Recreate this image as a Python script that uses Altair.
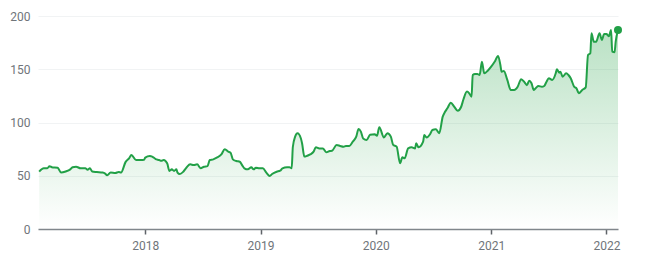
import altair as alt
import pandas as pd

# decimal year and price
years = [2017.08, 2017.12, 2017.15, 2017.17, 2017.19, 2017.24, 2017.27, 2017.31, 2017.35, 2017.37,
         2017.40, 2017.44, 2017.48, 2017.50, 2017.52, 2017.54, 2017.58, 2017.63, 2017.65, 2017.67,
         2017.70, 2017.74, 2017.77, 2017.79, 2017.83, 2017.86, 2017.88, 2017.92, 2017.96, 2017.99,
         2018.00, 2018.04, 2018.06, 2018.09, 2018.12, 2018.14, 2018.16, 2018.19, 2018.21, 2018.23,
         2018.25, 2018.27, 2018.28, 2018.30, 2018.33, 2018.36, 2018.39, 2018.42, 2018.45, 2018.48,
         2018.51, 2018.54, 2018.56, 2018.59, 2018.62, 2018.66, 2018.69, 2018.72, 2018.74, 2018.76,
         2018.79, 2018.82, 2018.84, 2018.86, 2018.89, 2018.92, 2018.94, 2018.96, 2018.99, 2019.02,
         2019.05, 2019.08, 2019.10, 2019.14, 2019.17, 2019.19, 2019.23, 2019.25, 2019.27, 2019.28,
         2019.30, 2019.32, 2019.35, 2019.36, 2019.38, 2019.40, 2019.43, 2019.46, 2019.48, 2019.51,
         2019.54, 2019.57, 2019.60, 2019.62, 2019.66, 2019.69, 2019.72, 2019.74, 2019.77, 2019.80,
         2019.83, 2019.85, 2019.87, 2019.89, 2019.92, 2019.95, 2019.99, 2020.01, 2020.03, 2020.07,
         2020.10, 2020.13, 2020.15, 2020.18, 2020.21, 2020.23, 2020.25, 2020.28, 2020.31, 2020.34,
         2020.35, 2020.37, 2020.41, 2020.42, 2020.44, 2020.47, 2020.49, 2020.52, 2020.55, 2020.58,
         2020.60, 2020.62, 2020.65, 2020.68, 2020.71, 2020.74, 2020.76, 2020.79, 2020.81, 2020.83,
         2020.84, 2020.86, 2020.88, 2020.90, 2020.92, 2020.94, 2020.97, 2021.00, 2021.03, 2021.06,
         2021.08, 2021.09, 2021.11, 2021.14, 2021.17, 2021.20, 2021.23, 2021.26, 2021.29, 2021.31,
         2021.33, 2021.35, 2021.37, 2021.39, 2021.41, 2021.44, 2021.46, 2021.48, 2021.50, 2021.53,
         2021.56, 2021.57, 2021.59, 2021.60, 2021.62, 2021.65, 2021.67, 2021.69, 2021.72, 2021.74,
         2021.76, 2021.79, 2021.82, 2021.84, 2021.86, 2021.87, 2021.89, 2021.91, 2021.94, 2021.96,
         2021.98, 2022.00, 2022.02, 2022.04, 2022.05, 2022.07, 2022.08, 2022.10]

prices = [53.8, 57.0, 57.0, 59.0, 58.0, 57.5, 53.0, 54.0, 56.0, 58.0,
          58.5, 57.0, 57.0, 55.7, 57.0, 54.0, 53.5, 53.0, 52.3, 50.4,
          53.0, 52.6, 53.5, 53.0, 63.0, 66.4, 69.5, 64.8, 64.8, 65.0,
          67.0, 68.5, 68.0, 65.7, 64.8, 64.0, 64.8, 61.7, 54.5, 56.0,
          54.5, 56.0, 53.0, 51.6, 53.8, 58.0, 60.7, 60.0, 60.7, 57.0,
          58.5, 59.0, 64.8, 65.4, 67.0, 70.0, 75.0, 72.6, 71.6, 65.4,
          63.8, 63.2, 60.0, 57.0, 56.0, 58.0, 56.0, 57.6, 57.0, 57.0,
          53.0, 49.8, 51.6, 53.8, 54.7, 57.0, 58.0, 58.0, 57.0, 77.0,
          86.7, 89.8, 85.0, 80.5, 68.0, 68.5, 70.0, 72.6, 76.7, 75.7,
          75.7, 72.0, 73.2, 73.5, 78.9, 78.0, 77.3, 78.0, 78.0, 82.0,
          86.7, 94.0, 91.4, 85.0, 83.6, 88.5, 89.0, 87.6, 95.5, 86.0,
          90.0, 86.7, 79.0, 77.3, 61.7, 67.3, 66.4, 75.7, 76.7, 75.7,
          80.5, 76.7, 82.0, 88.3, 86.0, 89.0, 93.0, 93.6, 90.0, 105.5,
          110.0, 113.3, 118.6, 114.8, 111.0, 114.8, 121.8, 129.0, 127.4, 124.2,
          144.6, 145.5, 145.5, 144.6, 157.0, 146.2, 148.6, 152.4, 157.0, 162.5,
          154.0, 147.7, 148.4, 140.0, 130.5, 130.5, 133.6, 140.6, 137.7, 135.0,
          139.3, 136.8, 130.5, 132.7, 134.3, 133.6, 134.3, 138.3, 141.5, 140.0,
          146.2, 150.0, 146.8, 147.7, 143.0, 146.2, 144.6, 141.5, 133.6, 132.1,
          127.4, 130.5, 133.0, 163.4, 165.0, 183.8, 175.9, 175.9, 183.8, 177.5,
          183.0, 183.0, 181.0, 186.8, 166.5, 166.0, 175.9, 186.8]

year_ticks = [2018, 2019, 2020, 2021, 2022]
price_ticks = [0, 50, 100, 150, 200]

df = pd.DataFrame({"year": years, "price": prices})
last = df.tail(1)

GREEN = "#22a047"
FONT = "Roboto"

x = alt.X("year:Q", scale=alt.Scale(domain=[2017.07, 2022.10], nice=False, zero=False),
          axis=alt.Axis(values=year_ticks, format="d", title=None, grid=False,
                        domainColor="#80868b", domainWidth=1.5, tickColor="#5f6368",
                        tickSize=5, tickWidth=1.5, labelColor="#70757a", labelFont=FONT,
                        labelFontSize=12, labelPadding=6, labelFlush=False))
y = alt.Y("price:Q", scale=alt.Scale(domain=[0, 200], nice=False),
          axis=alt.Axis(values=price_ticks, title=None, domain=False, ticks=False,
                        domainOpacity=0, gridColor="#f1f3f4", gridWidth=1,
                        labelColor="#70757a", labelFont=FONT, labelFontSize=12,
                        labelPadding=8))

area = alt.Chart(df).mark_area(
    strokeWidth=0,
    color=alt.Gradient(
        gradient="linear",
        stops=[alt.GradientStop(color="rgba(52,168,83,0.34)", offset=0),
               alt.GradientStop(color="rgba(52,168,83,0.0)", offset=1)],
        x1=1, x2=1, y1=0, y2=1),
).encode(x=x, y=y)

line = alt.Chart(df).mark_line(color=GREEN, strokeWidth=2, interpolate="monotone").encode(x=x, y=y)

dot = alt.Chart(last).mark_point(filled=True, color=GREEN, size=65, opacity=1).encode(x=x, y=y)

chart = alt.layer(area, line, dot).properties(
    width=580, height=213,
    background="white",
    autosize=alt.AutoSizeParams(type="none"),
    padding={"left": 38, "top": 16, "right": 32, "bottom": 39},
).configure_view(stroke="transparent", strokeOpacity=0).configure_axisY(
    domain=False, ticks=False
).configure_axisX(grid=False)

chart.save("out.html", embed_options={"renderer": "svg", "actions": False})
